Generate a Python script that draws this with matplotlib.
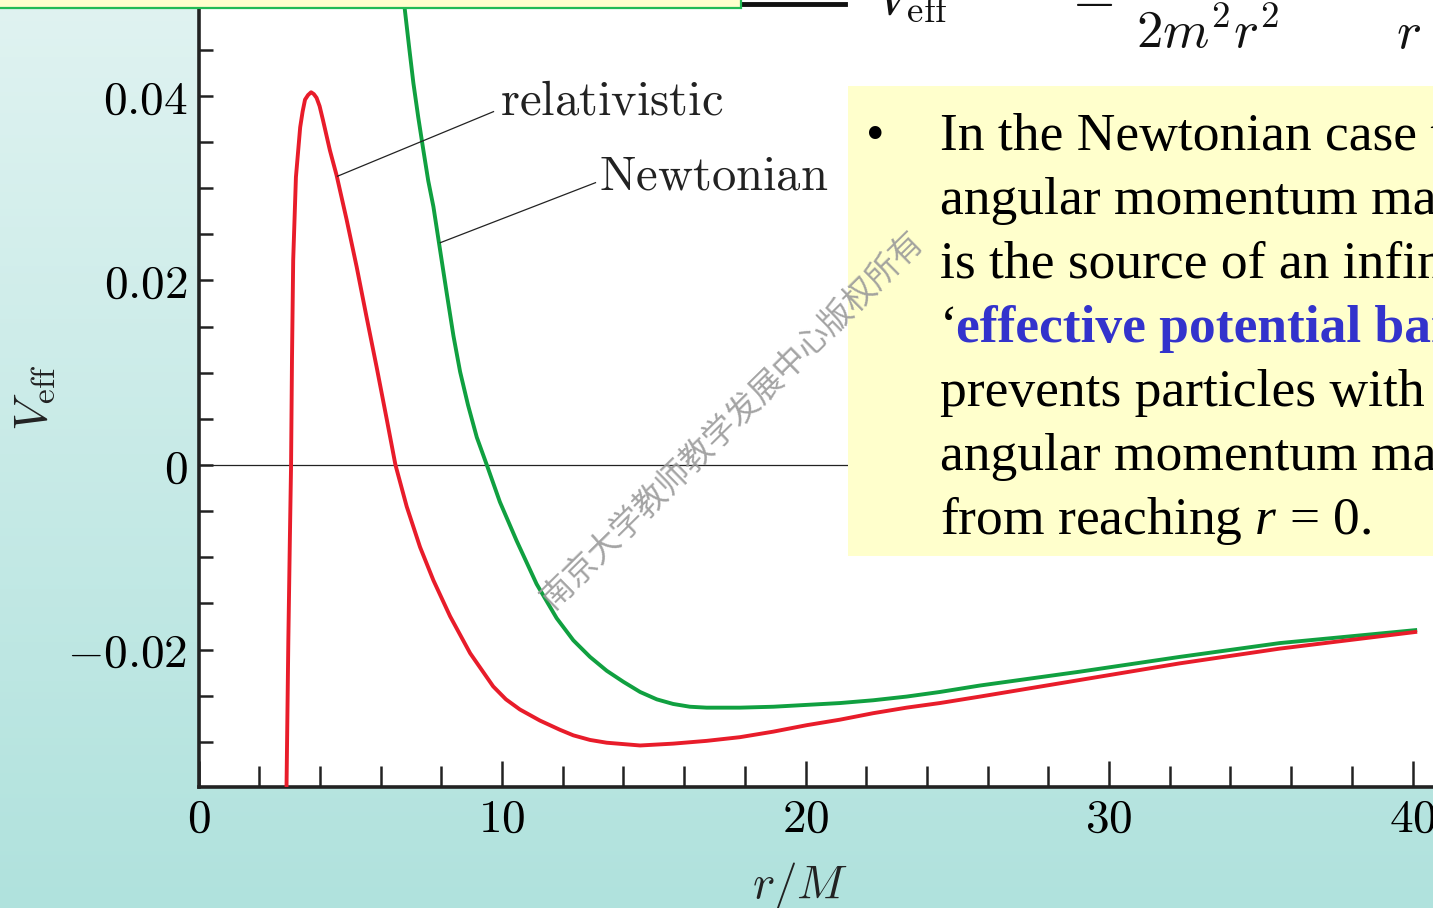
import numpy as np
import matplotlib.pyplot as plt
from matplotlib.patches import Rectangle
from matplotlib.lines import Line2D
from matplotlib.ticker import FixedLocator, MultipleLocator, FuncFormatter

# -----------------------------
# Data
# -----------------------------
rel_r = [2.90, 2.96, 3.01, 3.05, 3.08, 3.12, 3.21, 3.35, 3.43, 3.51,
         3.61, 3.71, 3.80, 3.89, 3.99, 4.10, 4.33, 4.55, 4.88, 5.21,
         5.54, 5.87, 6.20, 6.49, 6.86, 7.30, 7.74, 8.29, 8.95, 9.71,
         10.13, 10.59, 11.25, 11.91, 12.35, 12.90, 13.45, 14.55, 15.64, 16.74,
         17.84, 18.94, 20.04, 21.14, 22.23, 23.33, 24.43, 25.75, 29.04, 32.33,
         35.63, 40.09]
rel_v = [-0.0349, -0.0190, -0.0081, 0.0, 0.0114, 0.0222, 0.0312, 0.0366, 0.0383, 0.0396,
         0.0401, 0.0404, 0.0402, 0.0398, 0.0389, 0.0374, 0.0341, 0.0314, 0.0266, 0.0215,
         0.0160, 0.0106, 0.0050, 0.0, -0.0045, -0.0089, -0.0125, -0.0164, -0.0204, -0.0240,
         -0.0254, -0.0265, -0.0277, -0.0287, -0.0293, -0.0298, -0.0301, -0.0304, -0.0302, -0.0299,
         -0.0295, -0.0289, -0.0282, -0.0276, -0.0269, -0.0263, -0.0258, -0.0251, -0.0233, -0.0215,
         -0.0199, -0.0181]

newt_r = [6.75, 6.80, 6.95, 7.08, 7.24, 7.41, 7.57, 7.74, 7.96, 8.18,
          8.40, 8.62, 8.88, 9.17, 9.50, 9.93, 10.48, 11.14, 11.80, 12.35,
          12.90, 13.45, 14.00, 14.55, 15.10, 15.64, 16.19, 16.74, 17.84, 18.94,
          20.04, 21.14, 22.23, 23.33, 24.43, 25.75, 29.04, 32.33, 35.63, 40.09]
newt_v = [0.0510, 0.0493, 0.0450, 0.0414, 0.0377, 0.0341, 0.0308, 0.0280, 0.0233, 0.0186,
          0.0140, 0.0101, 0.0065, 0.0030, 0.0, -0.0040, -0.0082, -0.0129, -0.0166, -0.0190,
          -0.0208, -0.0223, -0.0235, -0.0246, -0.0254, -0.0259, -0.0262, -0.0263, -0.0263, -0.0262,
          -0.0260, -0.0258, -0.0255, -0.0251, -0.0246, -0.0239, -0.0224, -0.0208, -0.0193, -0.0179]

x_major = [0, 10, 20, 30, 40]
y_major = [-0.02, 0.0, 0.02, 0.04]
y_labels = [r"$-0.02$", r"$0$", r"$0.02$", r"$0.04$"]

bullet_lines = [
    "In the Newtonian case the",
    "angular momentum makes",
    "is the source of an infinite",
    None,  # coloured line, drawn separately
    "prevents particles with non-zero",
    "angular momentum mass",
    "from reaching $r$ = 0.",
]
watermark = "南京大学教师教学发展中心版权所有"

W, H = 1433, 908
RED = "#E81C2A"
GREEN = "#10A040"
INK = "#222222"


def fx(px):
    return px / W


def fy(py):
    return 1 - py / H


def main():
    plt.rcParams["mathtext.fontset"] = "cm"
    plt.rcParams["mathtext.rm"] = "Liberation Serif"
    plt.rcParams["mathtext.it"] = "Liberation Serif:italic"

    fig = plt.figure(figsize=(W / 100, H / 100), dpi=100)

    # ---- slide background (vertical teal gradient) ----
    bg = fig.add_axes([0, 0, 1, 1], zorder=-10)
    grad = np.linspace(0, 1, 256).reshape(-1, 1)
    top = np.array([224, 243, 241]) / 255
    bot = np.array([176, 226, 221]) / 255
    img = top + grad[:, :, None] * (bot - top)
    bg.imshow(img, aspect="auto", extent=[0, 1, 0, 1])
    bg.axis("off")

    # ---- plot ----
    x0, x_end = 198.5, W * 1.01
    ax = fig.add_axes([fx(x0), fy(787), fx(x_end - x0), 1 - fy(787)])
    ax.set_facecolor("white")
    ax.set_xlim(0, (x_end - x0) / 30.35)
    ax.set_ylim(-0.0349, 0.0504)

    ax.axhline(0, color=INK, lw=0.9, zorder=1)
    ax.plot(newt_r, newt_v, color=GREEN, lw=2.8, zorder=3, solid_joinstyle="round")
    ax.plot(rel_r, rel_v, color=RED, lw=2.8, zorder=3, solid_joinstyle="round")

    for s in ("top", "right"):
        ax.spines[s].set_visible(False)
    for s in ("left", "bottom"):
        ax.spines[s].set_linewidth(2.6)
        ax.spines[s].set_color(INK)

    ax.xaxis.set_major_locator(FixedLocator(x_major))
    ax.xaxis.set_minor_locator(MultipleLocator(2))
    ax.yaxis.set_major_locator(FixedLocator(y_major))
    ax.yaxis.set_minor_locator(MultipleLocator(0.005))
    ax.xaxis.set_major_formatter(FuncFormatter(lambda v, p: r"$%d$" % v))
    ax.set_yticklabels(y_labels)

    ax.tick_params(axis="x", which="major", direction="in", length=19, width=1.8,
                   color=INK, labelsize=34, pad=7)
    ax.tick_params(axis="x", which="minor", direction="in", length=15, width=1.8,
                   color=INK)
    ax.tick_params(axis="y", which="both", direction="in", length=10, width=1.8,
                   color=INK, labelsize=34, pad=8)

    # annotations
    ax.plot([4.58, 9.72], [0.0313, 0.0383], color=INK, lw=0.9, zorder=4)
    ax.plot([7.97, 13.08], [0.0241, 0.0306], color=INK, lw=0.9, zorder=4)
    ax.text(9.95, 0.0395, r"$\mathrm{relativistic}$", fontsize=35, va="center", color=INK)
    ax.text(13.2, 0.0314, r"$\mathrm{Newtonian}$", fontsize=35, va="center", color=INK)

    fig.text(fx(35), fy(398), r"$V_{\rm eff}$", rotation=90, fontsize=34,
             ha="center", va="center", color=INK)
    fig.text(fx(800), fy(886), r"$r/M$", fontsize=34, ha="center", va="center", color=INK)

    # ---- slide decorations ----
    fig.patches.append(Rectangle((fx(-5), fy(8)), fx(746), 0.05, transform=fig.transFigure,
                                 facecolor="#FFFFCC", edgecolor="#22BB55", lw=1.6, zorder=6))
    fig.lines.append(Line2D([fx(741), fx(845)], [fy(4), fy(4)], transform=fig.transFigure,
                            color="#111111", lw=3.5, zorder=6))
    fig.text(fx(876), fy(14), r"$V_{\rm eff}$", fontsize=38, va="baseline", color="#111111")
    fig.text(fx(1064), fy(11), r"$=$", fontsize=38, va="baseline", color="#111111")
    fig.text(fx(1136), fy(48), r"$2m^2r^2$", fontsize=38, va="baseline", color="#111111")
    fig.text(fx(1396), fy(48), r"$r$", fontsize=38, va="baseline", color="#111111")

    fig.patches.append(Rectangle((fx(848), fy(556)), 1 - fx(848) + 0.01, fy(86) - fy(556),
                                 transform=fig.transFigure, facecolor="#FFFFCC",
                                 edgecolor="none", zorder=6))

    baselines = [150, 214, 278, 342, 406, 470, 534]
    serif = "Liberation Serif"
    fs = 38.5
    fig.text(fx(866), fy(150), "\u2022", fontsize=38, family=serif, va="baseline", zorder=7)
    for line, b in zip(bullet_lines, baselines):
        if line is not None:
            t = fig.text(fx(940), fy(b), line, fontsize=fs, family=serif, va="baseline",
                         color="black", zorder=7)
            t.set_math_fontfamily("custom")
    fig.text(fx(940), fy(342), "\u2018", fontsize=fs, family=serif, va="baseline", zorder=7)
    fig.text(fx(956), fy(342), "effective potential barrier\u2019", fontsize=fs,
             family=serif, weight="bold", va="baseline", color="#3333CC", zorder=7)

    # watermark
    fig.text(fx(732), fy(420), watermark, fontsize=23.5, rotation=44.6,
             family=["Noto Sans CJK SC", "DejaVu Sans"], color="#9A9A9A", alpha=0.9,
             ha="center", va="center", rotation_mode="anchor", zorder=8)

    fig.savefig("out.png", dpi=100)


if __name__ == "__main__":
    main()
